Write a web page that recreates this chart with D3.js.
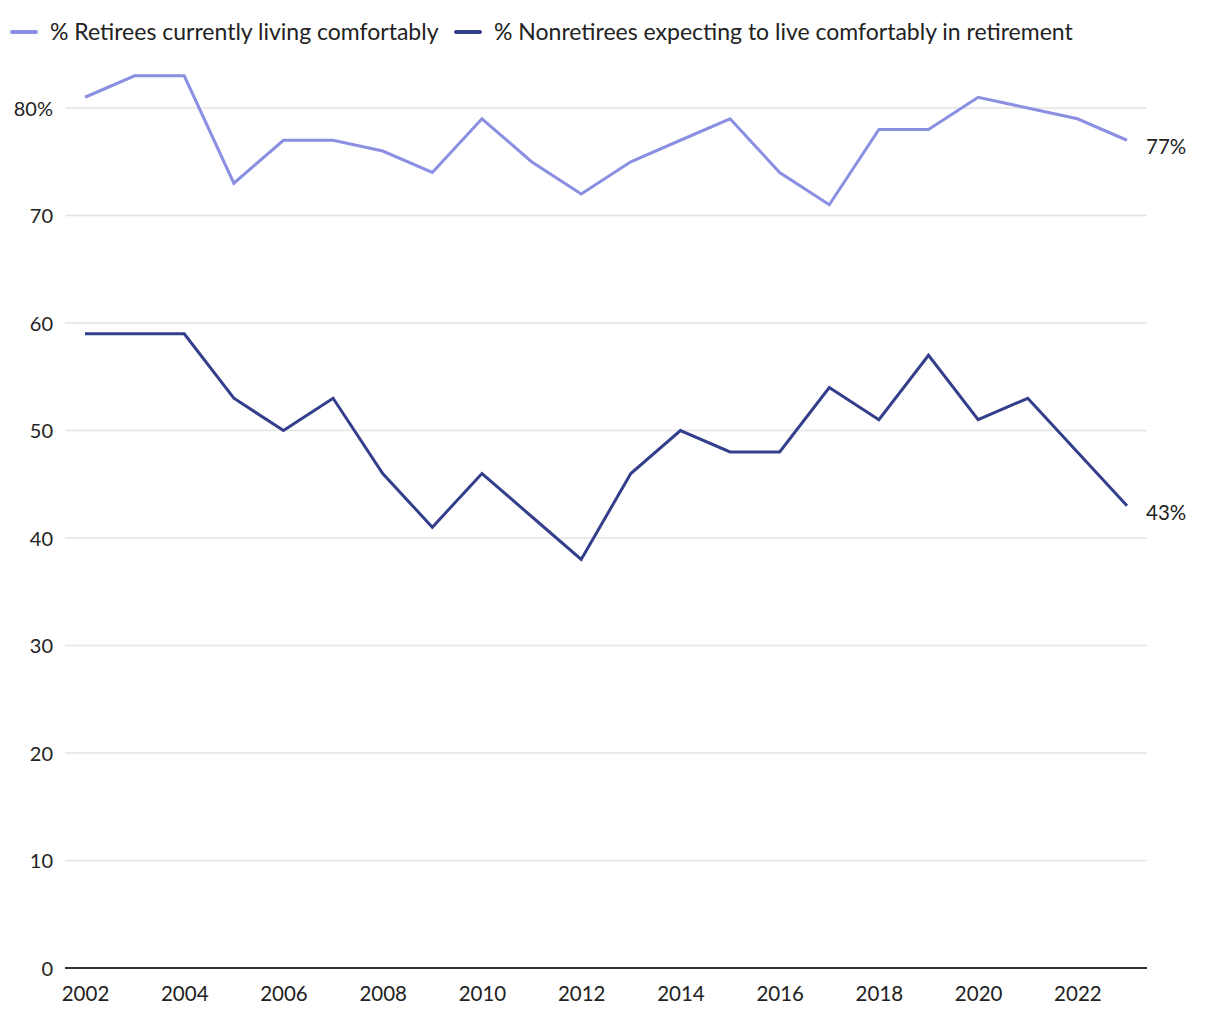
<!DOCTYPE html>
<html>
<head>
  <meta charset="utf-8">
  <script src="https://cdn.jsdelivr.net/npm/d3@7"></script>
  <style>
    html, body {
        margin:0px;
        padding:0px;
        background:#fff;
    }
    text {
        font-family: Lato, "Noto Sans", sans-serif;
        fill:#222;
    }
  </style>
  <title></title>
</head>
<body>
  <div id="chart"></div>
<script>
    // data
    var years = [2002,2003,2004,2005,2006,2007,2008,2009,2010,2011,2012,2013,2014,2015,2016,2017,2018,2019,2020,2021,2022,2023];
    var retirees = [81,83,83,73,77,77,76,74,79,75,72,75,77,79,74,71,78,78,81,80,79,77];
    var nonretirees = [59,59,59,53,50,53,46,41,46,42,38,46,50,48,48,54,51,57,51,53,48,43];
    var yTicks = [0,10,20,30,40,50,60,70,80];
    var xTicks = [2002,2004,2006,2008,2010,2012,2014,2016,2018,2020,2022];
    var seriesNames = ["% Retirees currently living comfortably", "% Nonretirees expecting to live comfortably in retirement"];
    var seriesColors = ["#8b8fe2", "#343f8c"];

    var width = 1220, height = 1020;
    var plotLeft = 65, plotRight = 1147, plotTop = 108, plotBottom = 968;

    var svg = d3.select("#chart").append("svg")
        .attr("width", width)
        .attr("height", height);

    var x = d3.scaleLinear().domain([2002, 2023]).range([85, 1127]);
    var y = d3.scaleLinear().domain([0, 80]).range([plotBottom, plotTop]);

    // gridlines
    svg.append("g").selectAll("line")
        .data(yTicks.filter(function(d){ return d > 0; }))
        .enter().append("line")
        .attr("x1", plotLeft).attr("x2", plotRight)
        .attr("y1", function(d){ return y(d); })
        .attr("y2", function(d){ return y(d); })
        .style("stroke", "#e3e3e3")
        .style("stroke-width", 1.5);

    // y axis labels
    var yAxis = d3.axisLeft(y).tickValues(yTicks).tickSize(0).tickPadding(0)
        .tickFormat(function(d){ return d === 80 ? d + "%" : d; });
    var gy = svg.append("g").attr("transform", "translate(53,0)").call(yAxis);
    gy.select(".domain").remove();
    gy.selectAll("text")
        .style("font-family", null)
        .style("font-size", "20px")
        .attr("dy", "0.35em");
    gy.attr("font-family", null);

    // x axis
    var xAxis = d3.axisBottom(x).tickValues(xTicks).tickSize(0).tickPadding(18)
        .tickFormat(d3.format("d"));
    var gx = svg.append("g").attr("transform", "translate(0," + plotBottom + ")").call(xAxis);
    gx.select(".domain").remove();
    gx.attr("font-family", null);
    gx.selectAll("text").style("font-size", "20.5px");
    svg.append("line")
        .attr("x1", plotLeft).attr("x2", plotRight)
        .attr("y1", plotBottom).attr("y2", plotBottom)
        .style("stroke", "#333")
        .style("stroke-width", 2);

    // lines
    var line = d3.line()
        .x(function(d, i){ return x(years[i]); })
        .y(function(d){ return y(d); });

    [retirees, nonretirees].forEach(function(vals, k){
        svg.append("path")
            .datum(vals)
            .attr("d", line)
            .style("fill", "none")
            .style("stroke", seriesColors[k])
            .style("stroke-width", 3);

        var last = vals[vals.length - 1];
        svg.append("text")
            .attr("x", x(years[years.length - 1]) + 19)
            .attr("y", y(last) + 14)
            .style("font-size", "20.5px")
            .text(last + "%");
    });

    // legend
    var legendX = [12, 456];
    seriesNames.forEach(function(name, k){
        svg.append("line")
            .attr("x1", legendX[k]).attr("x2", legendX[k] + 24)
            .attr("y1", 32).attr("y2", 32)
            .style("stroke", seriesColors[k])
            .style("stroke-width", 4)
            .style("stroke-linecap", "round");
        svg.append("text")
            .attr("x", legendX[k] + 38)
            .attr("y", 40)
            .style("font-size", "23px")
            .text(name);
    });
</script>
</body>
</html>
